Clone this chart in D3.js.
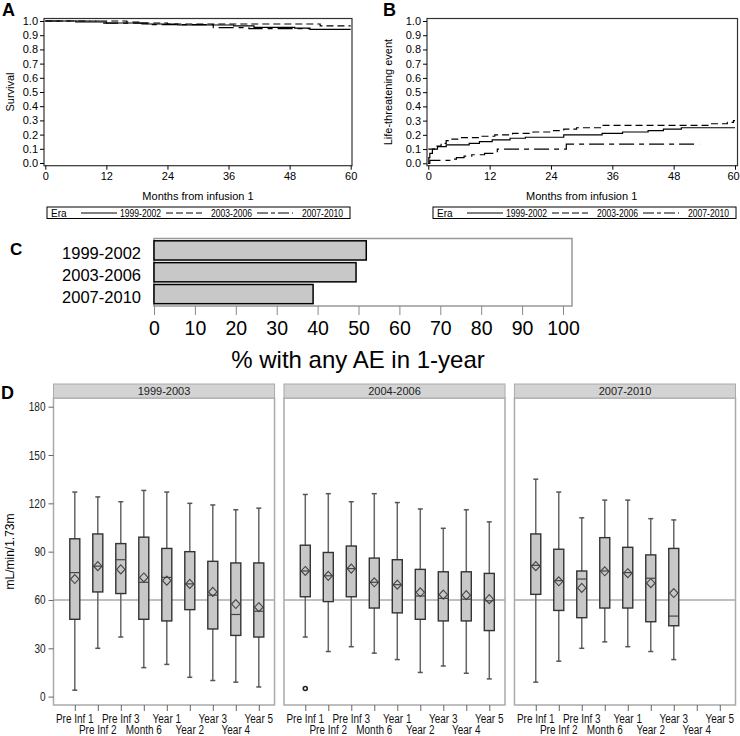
<!DOCTYPE html>
<html><head><meta charset="utf-8">
<script src="https://cdn.jsdelivr.net/npm/d3@7"></script>
<style>body{margin:0;background:#fff}</style>
</head><body>
<svg id="c" width="740" height="736"></svg>
<script>
// ---------------- DATA ----------------
const eraLabels = ["1999-2002","2003-2006","2007-2010"];
const monthTicks = [0,12,24,36,48,60];
const probTicks = [0,0.1,0.2,0.3,0.4,0.5,0.6,0.7,0.8,0.9,1.0];

// Panel A: survival (month, survival)
const survival1999 = [[0,1],[6,0.993],[12,0.986],[19,0.979],[26,0.972],[37,0.965],[41,0.955],[49,0.95],[52,0.941],[60,0.941]];
const survival2003 = [[0,1],[16,0.993],[19,0.986],[24,0.979],[54,0.966],[60,0.966]];
const survival2007 = [[0,1],[11,0.985],[20,0.975],[33,0.953],[40,0.946],[52,0.946]];

// Panel B: cumulative life-threatening event (month, proportion)
const lte1999 = [[0,0],[0.1,0.04],[0.3,0.07],[0.8,0.1],[1.8,0.117],[3.5,0.13],[8,0.14],[10,0.152],[12.5,0.164],[16,0.176],[19,0.183],[26.5,0.2],[34,0.21],[38,0.22],[43,0.23],[46,0.24],[49.5,0.25],[60,0.25]];
const lte2003 = [[0,0.1],[1.5,0.12],[2.5,0.14],[3.5,0.16],[4.5,0.17],[6,0.18],[10,0.19],[13,0.2],[16.5,0.21],[20.5,0.22],[24.5,0.23],[26.5,0.24],[29,0.25],[34,0.267],[55,0.278],[58.5,0.288],[59.7,0.3],[60,0.3]];
const lte2007 = [[0,0],[0.3,0.02],[4.2,0.03],[5.5,0.04],[7,0.05],[8.5,0.06],[11,0.07],[13.5,0.1],[27,0.135],[53,0.135]];

// Panel C: % with any AE in 1-year
const aePercent = [51.9, 49.4, 38.9];
const aeTicks = [0,10,20,30,40,50,60,70,80,90,100];

// Panel D: eGFR boxplots
const periods = ["1999-2003","2004-2006","2007-2010"];
const visits = ["Pre Inf 1","Pre Inf 2","Pre Inf 3","Month 6","Year 1","Year 2","Year 3","Year 4","Year 5"];
const gfrTicks = [0,30,60,90,120,150,180];
const refValue = 60;

const min1999 = [4, 30, 37, 18, 20, 12, 10, 9, 6];
const q1_1999 = [48, 65, 64, 48, 47, 54, 42, 38, 37];
const med1999 = [77, 81, 85, 71, 74, 70, 63, 51, 53];
const q3_1999 = [98, 101, 95, 99, 92, 90, 84, 83, 83];
const max1999 = [127, 124, 121, 128, 127, 120, 119, 116, 117];
const mean1999 = [73, 81, 79, 74, 72, 70, 65, 57.5, 55.5];

const min2004 = [37, 28, 31, 27, 23, 15, 19, 14.5, 11];
const q1_2004 = [62, 59, 62, 55, 52, 48, 47, 47, 41];
const med2004 = [78, 75, 79.5, 71, 69.5, 62.5, 61, 60.5, 59.5];
const q3_2004 = [94, 89.5, 93.5, 86, 85, 79, 77.5, 77.5, 76.5];
const max2004 = [125.5, 126, 121, 126, 120.5, 116.5, 104.5, 116, 108.5];
const mean2004 = [78, 75, 79.5, 71, 69.5, 64.8, 63.3, 63, 60.5];
const outlierVisit2004 = ["Pre Inf 1"];
const outlierValue2004 = [5];

const min2007 = [9, 22, 30, 34, 31, 28, 23];
const q1_2007 = [63.5, 53.5, 49, 55, 55, 46.5, 44];
const med2007 = [81.5, 72, 73, 78, 77, 73.5, 50];
const q3_2007 = [101, 91.5, 78, 98.7, 92.7, 88, 92];
const max2007 = [135, 127, 111, 122, 122, 110.5, 109.7];
const mean2007 = [81, 71.6, 67.5, 77.8, 76.6, 70.4, 64.3];

// ---------------- DRAW ----------------
const FONT = "'Liberation Sans', Arial, Helvetica, sans-serif";
const svg = d3.select("#c");

function condense(sel, f) {
  sel.each(function() {
    const w = this.getComputedTextLength();
    d3.select(this).attr("textLength", w * f).attr("lengthAdjust", "spacingAndGlyphs");
  });
}
function styleAxis(g, size, color) {
  g.select(".domain").remove();
  g.selectAll("text").attr("font-family", FONT).attr("font-size", size).attr("fill", color || "#000");
  g.selectAll("line").attr("stroke", color || "#000");
}
function panelLabel(t, x, y, size) {
  svg.append("text").attr("x", x).attr("y", y).text(t)
    .attr("font-family", FONT).attr("font-weight", "bold").attr("font-size", size);
}
const dashStyles = [null, "7,4", "15,5,5,5"];

function kmPanel(opt) {
  const x = d3.scaleLinear().domain([0,60]).range(opt.xr);
  const y = d3.scaleLinear().domain([0,1]).range(opt.yr);
  const g = svg.append("g");
  g.append("rect").attr("x", opt.frame[0]).attr("y", opt.frame[1])
    .attr("width", opt.frame[2]-opt.frame[0]).attr("height", opt.frame[3]-opt.frame[1])
    .attr("fill","none").attr("stroke","#333").attr("stroke-width",1.2);
  g.append("g").attr("transform", `translate(${opt.frame[0]},0)`)
    .call(d3.axisLeft(y).tickValues(probTicks).tickFormat(d3.format(".1f")).tickSize(4).tickPadding(2))
    .call(a => styleAxis(a, 11));
  const xa = g.append("g").attr("transform", `translate(0,${opt.frame[3]})`)
    .call(d3.axisBottom(x).tickValues(monthTicks).tickSize(4).tickPadding(3))
    .call(a => styleAxis(a, 11));
  if (opt.lastShift) xa.selectAll("text").filter(d => d === 60).attr("dx", opt.lastShift);
  const line = d3.line().x(d => x(d[0])).y(d => y(d[1])).curve(d3.curveStepAfter);
  opt.series.forEach((s, i) => {
    g.append("path").datum(s).attr("d", line).attr("fill","none")
      .attr("stroke","#000").attr("stroke-width",1.2)
      .attr("stroke-dasharray", dashStyles[i]);
  });
  g.append("text").attr("transform", `translate(${opt.ylabX},${(opt.yr[0]+opt.yr[1])/2}) rotate(-90)`)
    .attr("text-anchor","middle").attr("font-family",FONT).attr("font-size",11).text(opt.ylab);
  g.append("text").attr("x", (opt.xr[0]+opt.xr[1])/2).attr("y", 200)
    .attr("text-anchor","middle").attr("font-family",FONT).attr("font-size",11).text("Months from infusion 1");
  // legend
  const L = g.append("g").attr("transform", `translate(${opt.legX},207)`);
  L.append("rect").attr("width",303).attr("height",11.5).attr("fill","none").attr("stroke","#000").attr("stroke-width",1);
  L.append("text").attr("x",4).attr("y",9.5).attr("font-family",FONT).attr("font-size",10).text("Era");
  const sx = [34, 119, 210], tx = [73, 164, 255];
  eraLabels.forEach((e, i) => {
    L.append("line").attr("x1",sx[i]).attr("x2",sx[i]+36).attr("y1",6).attr("y2",6)
      .attr("stroke","#000").attr("stroke-width",1).attr("stroke-dasharray", dashStyles[i] ? (i===1?"7,3":"11,3,4,3") : null);
    L.append("text").attr("x",tx[i]).attr("y",9.5).attr("font-family",FONT).attr("font-size",10)
      .attr("textLength",41).attr("lengthAdjust","spacingAndGlyphs").text(e);
  });
}

panelLabel("A", 2, 16, 18);
kmPanel({xr:[45.3,350.7], yr:[163,21], frame:[44,18.5,352,165.7], ylab:"Survival", ylabX:14,
  series:[survival1999, survival2003, survival2007], legX:47});
panelLabel("B", 383, 16, 18);
kmPanel({xr:[428.3,735], yr:[163.3,21], frame:[427,18.5,737.5,165.7], ylab:"Life-threatening event", ylabX:392,
  series:[lte1999, lte2003, lte2007], legX:433, lastShift:-2});

// ---- Panel C ----
panelLabel("C", 10, 255, 17);
const xC = d3.scaleLinear().domain([0,100]).range([154,563]);
const yC = d3.scaleBand().domain(eraLabels).range([239.5,305]).paddingInner(0.12).paddingOuter(0.06);
svg.append("rect").attr("x",154).attr("y",238.5).attr("width",418).attr("height",67.5)
  .attr("fill","none").attr("stroke","#999").attr("stroke-width",1.5);
svg.append("g").selectAll("rect").data(aePercent).join("rect")
  .attr("x", xC(0)).attr("y", (d,i) => yC(eraLabels[i]))
  .attr("width", d => xC(d) - xC(0)).attr("height", yC.bandwidth())
  .attr("fill","#c8c8c8").attr("stroke","#000").attr("stroke-width",1.5);
svg.append("g").selectAll("text").data(eraLabels).join("text")
  .attr("x", 141).attr("y", d => yC(d) + yC.bandwidth()/2 + 9)
  .attr("text-anchor","end").attr("font-family",FONT).attr("font-size",16.5).text(d => d);
svg.append("g").attr("transform","translate(0,306)")
  .call(d3.axisBottom(xC).tickValues(aeTicks).tickSize(9).tickPadding(6))
  .call(a => { styleAxis(a, 19.5); a.selectAll("line").attr("stroke","#888"); });
svg.append("text").attr("x", 358).attr("y", 368).attr("text-anchor","middle")
  .attr("font-family",FONT).attr("font-size",24).text("% with any AE in 1-year");

// ---- Panel D ----
panelLabel("D", 1, 399, 18);
const facet = d3.scaleBand().domain(periods).range([53.5, 735.5]).paddingInner(0.041);
const xD = d3.scalePoint().domain(visits).range([21.3, 205.3]);
const yD = d3.scaleLinear().domain([-5.2, 185.4]).range([705, 398]);
const W = facet.bandwidth();
const stats = [
  {min:min1999,q1:q1_1999,med:med1999,q3:q3_1999,max:max1999,mean:mean1999,ov:[],oy:[]},
  {min:min2004,q1:q1_2004,med:med2004,q3:q3_2004,max:max2004,mean:mean2004,ov:outlierVisit2004,oy:outlierValue2004},
  {min:min2007,q1:q1_2007,med:med2007,q3:q3_2007,max:max2007,mean:mean2007,ov:[],oy:[]}
];
const boxW = 10, capW = 5;
periods.forEach((p, pi) => {
  const g = svg.append("g").attr("transform", `translate(${facet(p)},0)`);
  const s = stats[pi];
  g.append("rect").attr("x",0).attr("y",yD.range()[1]).attr("width",W).attr("height",yD.range()[0]-yD.range()[1])
    .attr("fill","none").attr("stroke","#aaa").attr("stroke-width",1.5);
  g.append("rect").attr("x",0).attr("y",384).attr("width",W).attr("height",14)
    .attr("fill","#d3d3d3").attr("stroke","#aaa").attr("stroke-width",1);
  g.append("text").attr("x",W/2).attr("y",395).attr("text-anchor","middle")
    .attr("font-family",FONT).attr("font-size",11).attr("fill","#222").text(p);
  g.append("line").attr("x1",0).attr("x2",W).attr("y1",yD(refValue)).attr("y2",yD(refValue))
    .attr("stroke","#aaa").attr("stroke-width",1.5);
  s.min.forEach((mn, i) => {
    const cx = xD(visits[i]);
    g.append("line").attr("x1",cx).attr("x2",cx).attr("y1",yD(mn)).attr("y2",yD(s.max[i]))
      .attr("stroke","#666").attr("stroke-width",1.5);
    [mn, s.max[i]].forEach(v => g.append("line").attr("x1",cx-capW/2).attr("x2",cx+capW/2)
      .attr("y1",yD(v)).attr("y2",yD(v)).attr("stroke","#555").attr("stroke-width",1.5));
    g.append("rect").attr("x",cx-boxW/2).attr("y",yD(s.q3[i])).attr("width",boxW)
      .attr("height",yD(s.q1[i])-yD(s.q3[i])).attr("fill","#c8c8c8").attr("stroke","#333").attr("stroke-width",1.4);
    g.append("line").attr("x1",cx-boxW/2).attr("x2",cx+boxW/2).attr("y1",yD(s.med[i])).attr("y2",yD(s.med[i]))
      .attr("stroke","#444").attr("stroke-width",1.2);
    const my = yD(s.mean[i]);
    g.append("path").attr("d",`M${cx},${my-4.5}L${cx+4.2},${my}L${cx},${my+4.5}L${cx-4.2},${my}Z`)
      .attr("fill","none").attr("stroke","#444").attr("stroke-width",1.1);
  });
  s.ov.forEach((v, i) => {
    g.append("circle").attr("cx", xD(v)).attr("cy", yD(s.oy[i])).attr("r",2)
      .attr("fill","none").attr("stroke","#222").attr("stroke-width",1.6);
  });
  // x axis
  const ax = g.append("g").attr("transform",`translate(0,${yD.range()[0]})`)
    .call(d3.axisBottom(xD).tickSize(6).tickFormat(""));
  ax.select(".domain").remove();
  ax.selectAll("line").attr("stroke","#666");
  g.append("g").selectAll("text").data(visits).join("text")
    .attr("x", d => xD(d)).attr("y", (d,i) => i % 2 === 0 ? 722.5 : 734)
    .attr("text-anchor","middle").attr("font-family",FONT).attr("font-size",12).attr("fill","#111").text(d => d)
    .call(sel => condense(sel, 0.83));
});
svg.append("g").attr("transform",`translate(${facet(periods[0])},0)`)
  .call(d3.axisLeft(yD).tickValues(gfrTicks).tickSize(5).tickPadding(3))
  .call(a => { styleAxis(a, 12.5, "#222"); a.selectAll("line").attr("stroke","#666"); condense(a.selectAll("text"), 0.8); });
svg.append("text").attr("transform",`translate(14,${(yD.range()[0]+yD.range()[1])/2}) rotate(-90)`)
  .attr("text-anchor","middle").attr("font-family",FONT).attr("font-size",12).text("mL/min/1.73m");
</script>
</body></html>
